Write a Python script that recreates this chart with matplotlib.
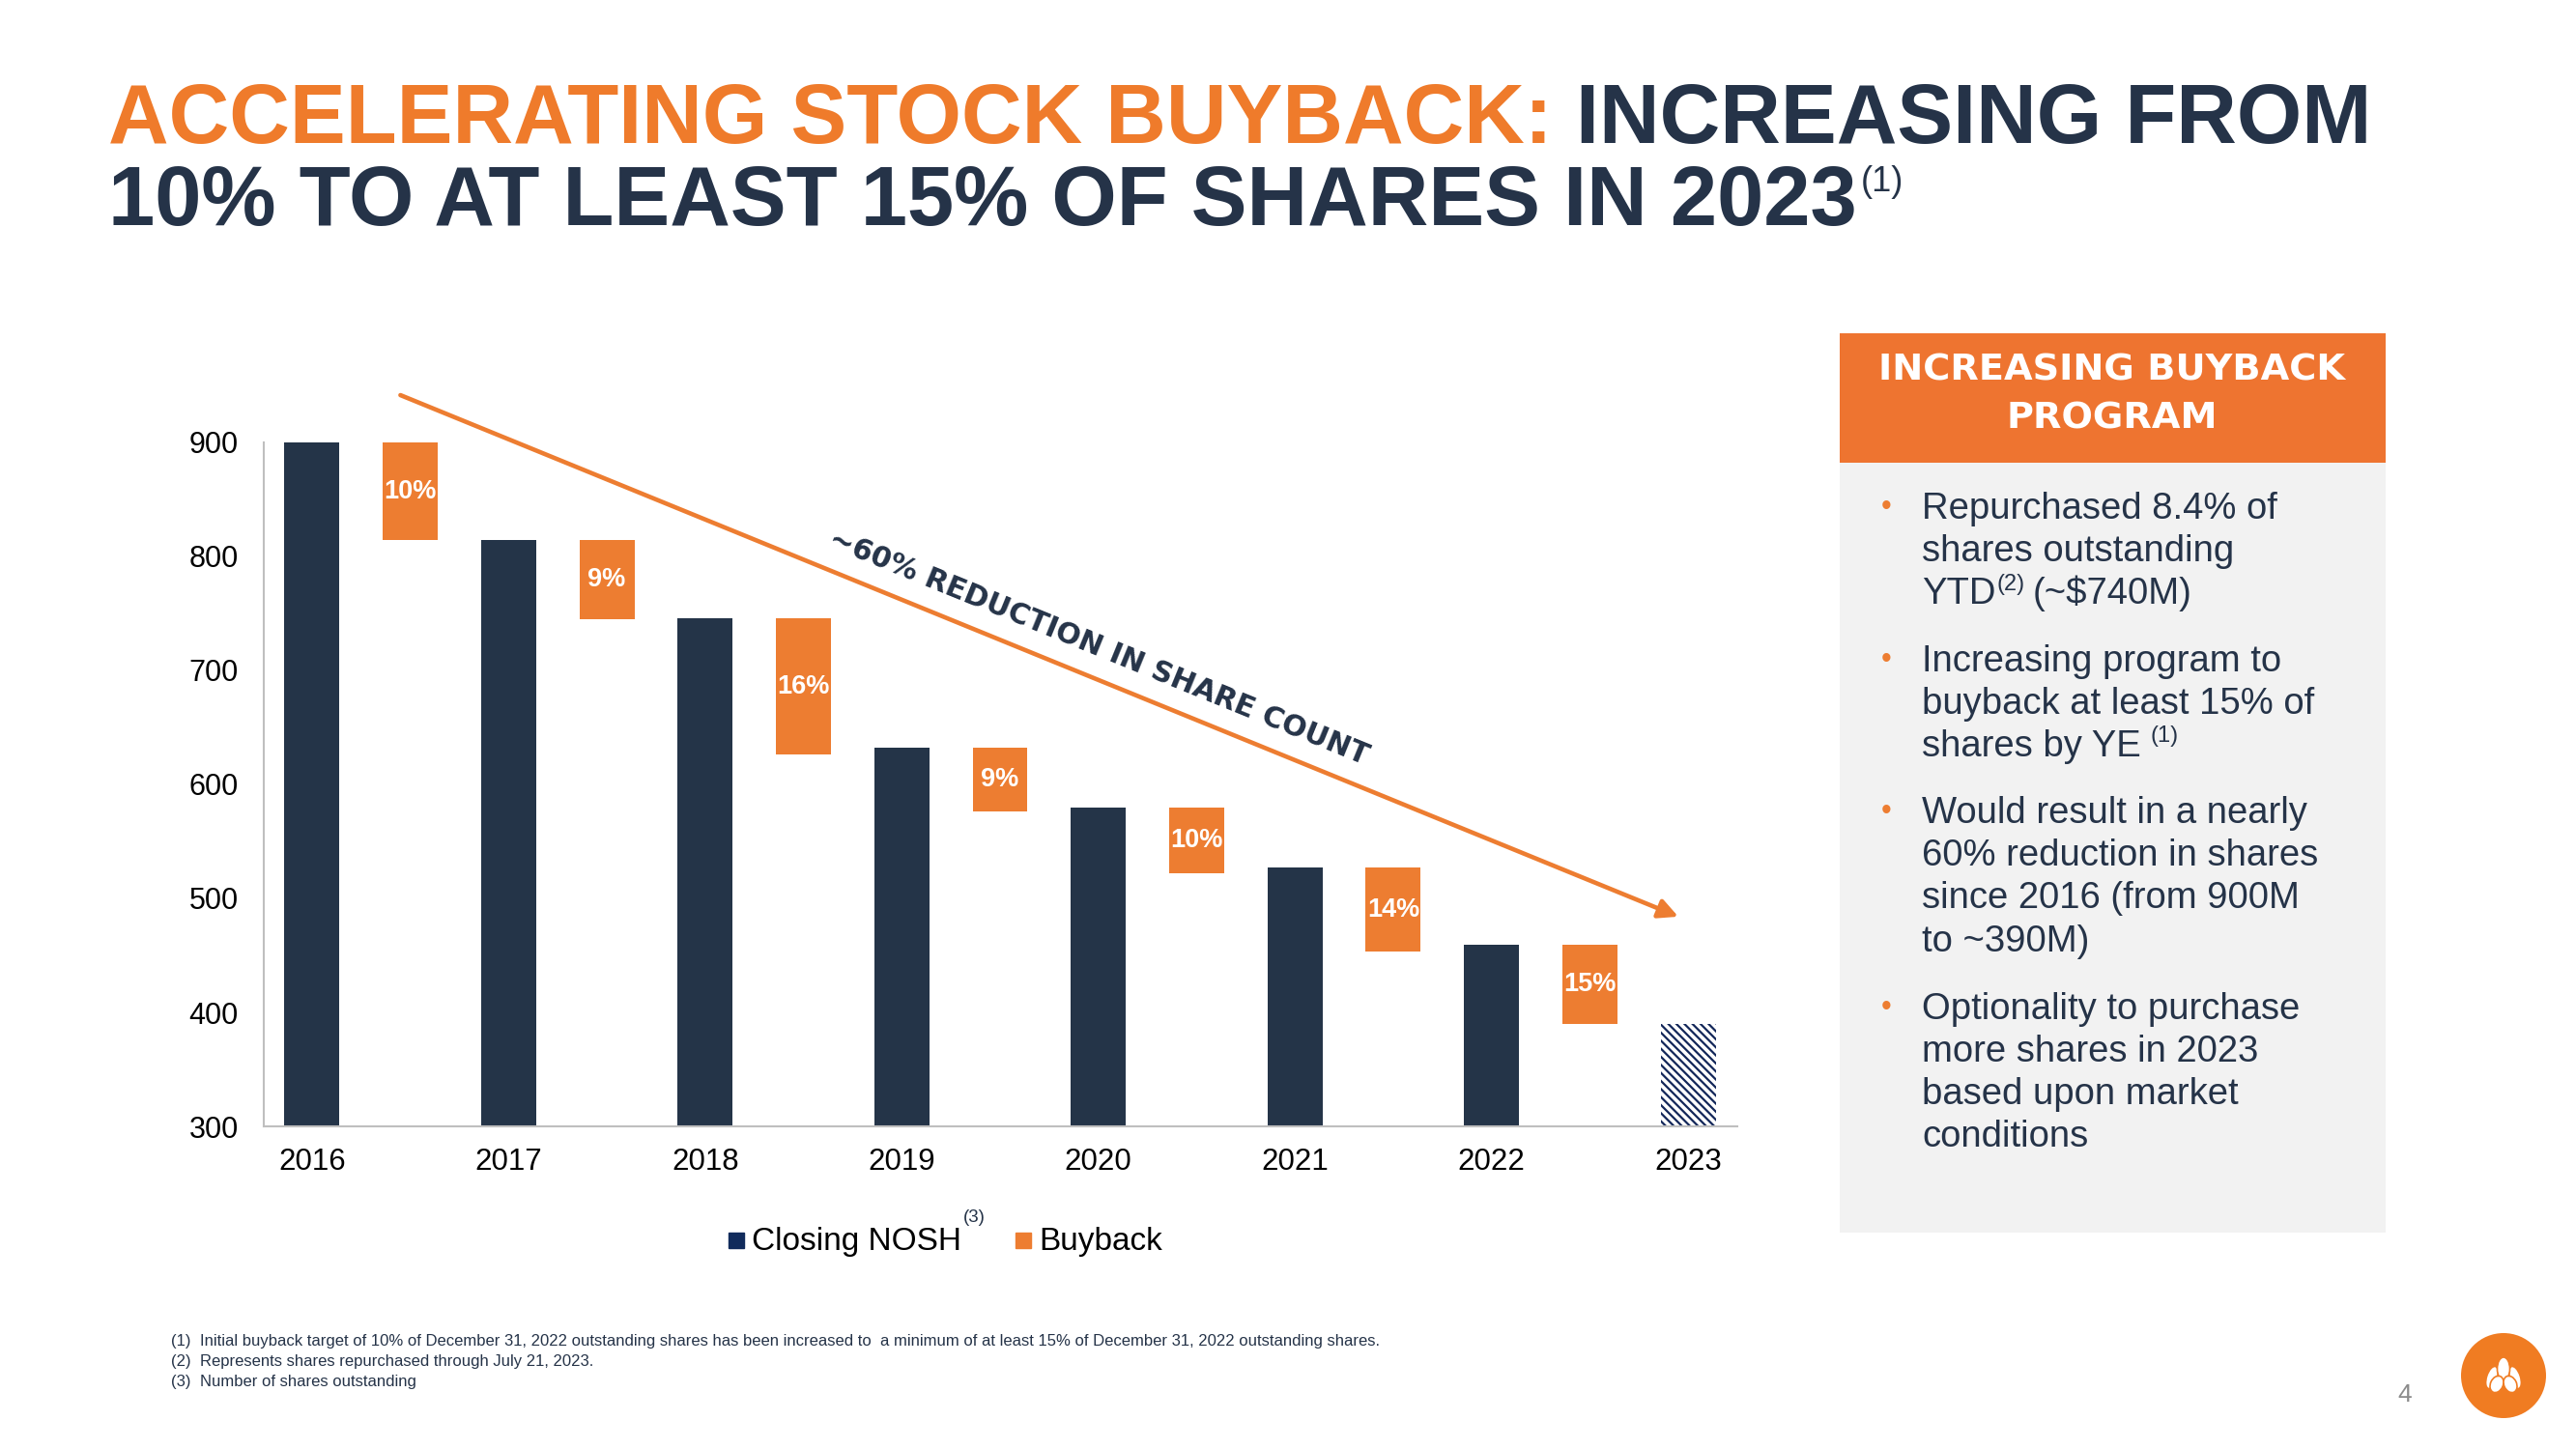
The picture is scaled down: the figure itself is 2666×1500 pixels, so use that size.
import numpy as np
import matplotlib.pyplot as plt
from matplotlib.patches import Rectangle, Circle, Ellipse

plt.rcParams['font.family'] = ['Liberation Sans', 'DejaVu Sans']
plt.rcParams['hatch.linewidth'] = 1.6

# chart data
years = ['2016', '2017', '2018', '2019', '2020', '2021', '2022', '2023']
closing_nosh = [900, 814, 746, 632, 580, 527, 459, 390]
buyback_end = [814, 745, 626, 576, 522, 453, 390]
buyback_pct = ['10%', '9%', '16%', '9%', '10%', '14%', '15%']

NAVY = '#243448'
ORANGE = '#ED7D31'
TITLE_OR = '#EF7B2B'
TXT = '#253348'

W, H = 2666, 1500
fig = plt.figure(figsize=(W / 100, H / 100), dpi=100)

# full-figure overlay in pixel coordinates for the slide decorations
bg = fig.add_axes([0, 0, 1, 1], zorder=-1)
bg.set_xlim(0, W)
bg.set_ylim(H, 0)
bg.axis('off')

# ---- chart ----
ax = fig.add_axes([273 / W, 1 - 1166 / H, (1798 - 273) / W, (1166 - 458) / H])
x_close = np.arange(0, 15, 2)
x_buy = np.arange(1, 14, 2)
closing = np.array(closing_nosh)
ends = np.array(buyback_end)

ax.bar(x_close[:-1], closing[:-1], width=0.56, color=NAVY, zorder=2)
ax.bar(x_close[-1:], closing[-1:], width=0.56, color='white', edgecolor='#13275A',
       hatch='\\\\\\\\', linewidth=0, zorder=2)
ax.bar(x_buy, closing[:-1] - ends, bottom=ends, width=0.56, color=ORANGE, zorder=2)
for x, top, bot, lab in zip(x_buy, closing[:-1], ends, buyback_pct):
    ax.text(x, (top + bot) / 2, lab, ha='center', va='center', color='white',
            fontsize=19.5, fontweight='bold', zorder=3)

ax.set_xlim(-0.49, 14.5)
ax.set_ylim(300, 900)
ax.set_yticks(range(300, 901, 100))
ax.set_xticks(x_close)
ax.set_xticklabels(years)
ax.tick_params(axis='x', length=0, pad=16, labelsize=22.5)
ax.tick_params(axis='y', length=0, pad=19, labelsize=22)
for s in ['top', 'right']:
    ax.spines[s].set_visible(False)
for s in ['left', 'bottom']:
    ax.spines[s].set_color('#BFBFBF')
    ax.spines[s].set_linewidth(1.5)

ax.annotate('', xy=(13.9, 484), xytext=(0.90, 941.5),
            arrowprops=dict(arrowstyle='-|>,head_length=0.6,head_width=0.3',
                            color=ORANGE, lw=3.3, shrinkA=0, shrinkB=0,
                            mutation_scale=20),
            annotation_clip=False)
ax.text(8.0, 720, '~60% REDUCTION IN SHARE COUNT', rotation=-22.2,
        rotation_mode='anchor', ha='center', va='center', color=TXT,
        fontsize=21.5, fontweight='bold', family='DejaVu Sans', zorder=4)

# ---- legend ----
bg.add_patch(Rectangle((754, 1276), 16, 16, color='#112B5C'))
bg.text(778, 1294, 'Closing NOSH', fontsize=24, color='black', va='baseline')
bg.text(997, 1265, '(3)', fontsize=13.5, color=TXT, va='baseline')
bg.add_patch(Rectangle((1051, 1276), 16, 16, color=ORANGE))
bg.text(1075, 1294, 'Buyback', fontsize=24, color='black', va='baseline')

renderer = fig.canvas.get_renderer()


def x_end(t):
    return t.get_window_extent(renderer=renderer).x1


# ---- title ----
t1 = bg.text(112, 148, 'ACCELERATING STOCK BUYBACK:', fontsize=62.5, fontweight='bold',
             color=TITLE_OR, va='baseline')
bg.text(x_end(t1) + 24, 148, 'INCREASING FROM', fontsize=62.5, fontweight='bold',
        color=TXT, va='baseline')
t2 = bg.text(112, 233, '10% TO AT LEAST 15% OF SHARES IN 2023', fontsize=62.5,
             fontweight='bold', color=TXT, va='baseline')
bg.text(x_end(t2) + 4, 198, '(1)', fontsize=26, color=TXT, va='baseline')

# ---- side panel ----
bg.add_patch(Rectangle((1904, 345), 565, 134, color='#EE7430', lw=0))
bg.add_patch(Rectangle((1904, 479), 565, 797, color='#F2F2F2', lw=0))
bg.text(2186, 394, 'INCREASING BUYBACK', ha='center', va='baseline', color='white',
        fontsize=27.5, fontweight='bold', family='DejaVu Sans')
bg.text(2186, 444, 'PROGRAM', ha='center', va='baseline', color='white',
        fontsize=27.5, fontweight='bold', family='DejaVu Sans')

BFS = 27.5
lines = [
    (537, 'Repurchased 8.4% of', True),
    (581, 'shares outstanding', False),
    (625, None, False),
    (695, 'Increasing program to', True),
    (739, 'buyback at least 15% of', False),
    (783, None, False),
    (852, 'Would result in a nearly', True),
    (896, '60% reduction in shares', False),
    (940, 'since 2016 (from 900M', False),
    (985, 'to ~390M)', False),
    (1055, 'Optionality to purchase', True),
    (1099, 'more shares in 2023', False),
    (1143, 'based upon market', False),
    (1187, 'conditions', False),
]
for y, s, bullet in lines:
    if bullet:
        bg.text(1952, y - 4, '•', ha='center', va='baseline', color=ORANGE, fontsize=22)
    if s is not None:
        bg.text(1989, y, s, fontsize=BFS, color=TXT, va='baseline')

ta = bg.text(1989, 625, 'YTD', fontsize=BFS, color=TXT, va='baseline')
tb = bg.text(x_end(ta) + 1, 611, '(2)', fontsize=17, color=TXT, va='baseline')
bg.text(x_end(tb) + 8, 625, '(~$740M)', fontsize=BFS, color=TXT, va='baseline')
tc = bg.text(1989, 783, 'shares by YE', fontsize=BFS, color=TXT, va='baseline')
bg.text(x_end(tc) + 10, 768, '(1)', fontsize=17, color=TXT, va='baseline')

# ---- footnotes ----
notes = [
    'Initial buyback target of 10% of December 31, 2022 outstanding shares has been '
    'increased to  a minimum of at least 15% of December 31, 2022 outstanding shares.',
    'Represents shares repurchased through July 21, 2023.',
    'Number of shares outstanding',
]
for i, s in enumerate(notes):
    yb = 1393 + 21 * i
    bg.text(177, yb, '(%d)' % (i + 1), fontsize=12, color=TXT, va='baseline')
    bg.text(207, yb, s, fontsize=12, color=TXT, va='baseline')

# ---- page number and logo ----
bg.text(2481, 1451, '4', fontsize=19, color='#8C8C8C', va='baseline')
bg.add_patch(Circle((2591, 1424), 44, color='#F07C22', lw=0))
for (cx, cy, w, h, a) in [(2579, 1426, 11, 24, 18), (2603, 1426, 11, 24, -18),
                          (2591, 1417, 13, 24, 0), (2584, 1433, 13, 18, 25),
                          (2598, 1433, 13, 18, -25)]:
    bg.add_patch(Ellipse((cx, cy), w, h, angle=a, facecolor='white',
                         edgecolor='#F07C22', lw=1.2))

fig.savefig('out.png', dpi=100)
